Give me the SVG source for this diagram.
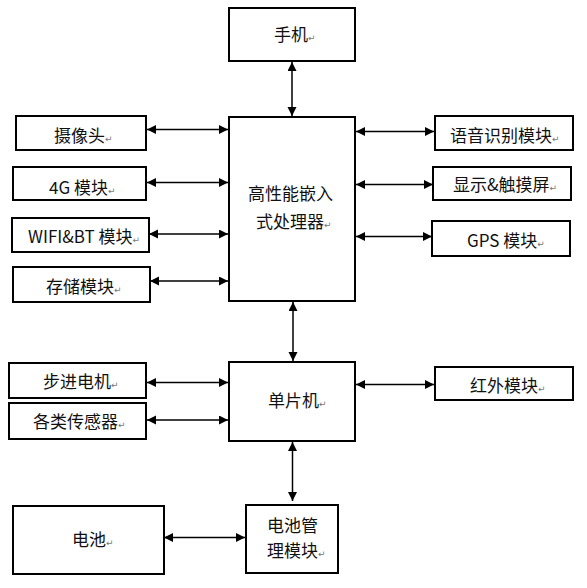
<svg xmlns="http://www.w3.org/2000/svg" width="587" height="588" viewBox="0 0 587 588">
<style>
.box{fill:#fff;stroke:#000;stroke-width:2}
.t{font-family:"Noto Sans CJK SC","Liberation Sans",sans-serif;font-size:17px;fill:#111}
.rt{font-family:"DejaVu Sans",sans-serif;font-size:9px;fill:#777}
.c{stroke:#000;stroke-width:1.5;fill:none;marker-start:url(#ah);marker-end:url(#ah)}
</style>
<defs>
<marker id="ah" markerUnits="userSpaceOnUse" markerWidth="10" markerHeight="10" refX="9" refY="4.5" orient="auto-start-reverse">
<path d="M0,0 L9,4.5 L0,9 z" fill="#000"/>
</marker>
</defs>
<rect width="587" height="588" fill="#fff"/>
<g id="connectors">
<line class="c" x1="292" y1="62" x2="292" y2="116"/>
<line class="c" x1="147" y1="129.5" x2="228" y2="129.5"/>
<line class="c" x1="147" y1="182.5" x2="228" y2="182.5"/>
<line class="c" x1="149" y1="234" x2="228" y2="234"/>
<line class="c" x1="150" y1="281" x2="228" y2="281"/>
<line class="c" x1="356" y1="131.5" x2="434" y2="131.5"/>
<line class="c" x1="356" y1="184.5" x2="433" y2="184.5"/>
<line class="c" x1="356" y1="236.5" x2="432" y2="236.5"/>
<line class="c" x1="293" y1="302" x2="293" y2="361"/>
<line class="c" x1="147" y1="382.5" x2="228" y2="382.5"/>
<line class="c" x1="147" y1="420" x2="228" y2="420"/>
<line class="c" x1="356" y1="384.5" x2="434" y2="384.5"/>
<line class="c" x1="292.5" y1="442" x2="292.5" y2="501"/>
<line class="c" x1="164" y1="537.5" x2="245" y2="537.5"/>
</g>
<g id="phone"><rect class="box" x="229" y="8" width="126" height="53"/><text class="t" x="274" y="41">手机<tspan class="rt">↵</tspan></text></g>
<g id="cpu"><rect class="box" x="229" y="117" width="126" height="184"/><text class="t" x="248" y="200">高性能嵌入</text><text class="t" x="256" y="228">式处理器<tspan class="rt">↵</tspan></text></g>
<g id="camera"><rect class="box" x="16" y="116" width="130" height="34"/><text class="t" x="54" y="142">摄像头<tspan class="rt">↵</tspan></text></g>
<g id="g4"><rect class="box" x="13" y="167" width="133" height="33"/><text class="t" x="49" y="194">4G 模块<tspan class="rt">↵</tspan></text></g>
<g id="wifi"><rect class="box" x="12" y="218" width="137" height="34"/><text class="t" x="28" y="243">WIFI&amp;BT 模块<tspan class="rt">↵</tspan></text></g>
<g id="storage"><rect class="box" x="13" y="267" width="137" height="35"/><text class="t" x="46" y="293">存储模块<tspan class="rt">↵</tspan></text></g>
<g id="voice"><rect class="box" x="435" y="116" width="138" height="34"/><text class="t" x="450" y="142">语音识别模块<tspan class="rt">↵</tspan></text></g>
<g id="display"><rect class="box" x="433" y="167" width="138" height="33"/><text class="t" x="453" y="191">显示&amp;触摸屏<tspan class="rt">↵</tspan></text></g>
<g id="gps"><rect class="box" x="432" y="221" width="138" height="35"/><text class="t" x="467" y="247">GPS 模块<tspan class="rt">↵</tspan></text></g>
<g id="mcu"><rect class="box" x="229" y="362" width="126" height="79"/><text class="t" x="268" y="407">单片机<tspan class="rt">↵</tspan></text></g>
<g id="motor"><rect class="box" x="9" y="363" width="137" height="35"/><text class="t" x="43" y="388">步进电机<tspan class="rt">↵</tspan></text></g>
<g id="sensors"><rect class="box" x="9" y="403" width="137" height="36"/><text class="t" x="33" y="428">各类传感器<tspan class="rt">↵</tspan></text></g>
<g id="ir"><rect class="box" x="435" y="367" width="138" height="33"/><text class="t" x="470" y="392">红外模块<tspan class="rt">↵</tspan></text></g>
<g id="battery"><rect class="box" x="13" y="506" width="151" height="68"/><text class="t" x="72" y="546">电池<tspan class="rt">↵</tspan></text></g>
<g id="bms"><rect class="box" x="246" y="505" width="92" height="68"/><text class="t" x="267" y="532">电池管</text><text class="t" x="267" y="557">理模块<tspan class="rt">↵</tspan></text></g>
</svg>
